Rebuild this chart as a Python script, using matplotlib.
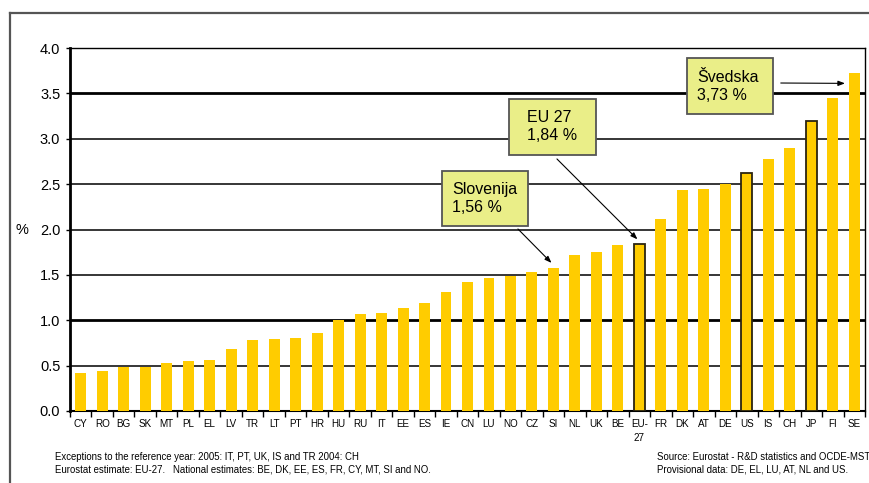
import numpy as np
import matplotlib.pyplot as plt
from matplotlib.lines import Line2D
from matplotlib.patches import Rectangle

plt.rcParams['font.family'] = ['Liberation Sans', 'DejaVu Sans']

countries = ['CY', 'RO', 'BG', 'SK', 'MT', 'PL', 'EL', 'LV', 'TR', 'LT', 'PT', 'HR',
             'HU', 'RU', 'IT', 'EE', 'ES', 'IE', 'CN', 'LU', 'NO', 'CZ', 'SI', 'NL',
             'UK', 'BE', 'EU-\n27', 'FR', 'DK', 'AT', 'DE', 'US', 'IS', 'CH', 'JP',
             'FI', 'SE']
gerd = [0.42, 0.44, 0.48, 0.49, 0.53, 0.55, 0.56, 0.68, 0.78, 0.79, 0.80, 0.86,
        1.00, 1.07, 1.08, 1.14, 1.19, 1.31, 1.42, 1.47, 1.49, 1.53, 1.58, 1.72,
        1.75, 1.83, 1.84, 2.12, 2.43, 2.45, 2.50, 2.62, 2.78, 2.90, 3.20,
        3.45, 3.73]
outlined = ['EU-\n27', 'US', 'JP']

yticks = [0.0, 0.5, 1.0, 1.5, 2.0, 2.5, 3.0, 3.5, 4.0]

W, H = 869, 483
fig = plt.figure(figsize=(W / 100, H / 100), dpi=100)


def fx(x):
    return x / W


def fy(y):
    return 1 - y / H


ax = fig.add_axes([fx(70), fy(411), fx(865) - fx(70), fy(48) - fy(411)])

x = np.arange(len(countries))
bars = ax.bar(x, gerd, width=0.51, color='#FFCC00', zorder=3)
for b, c in zip(bars, countries):
    if c in outlined:
        b.set_edgecolor('#2b2410')
        b.set_linewidth(1.3)

for t in yticks[1:]:
    lw = 2.0 if t in (1.0, 3.5) else 1.1
    ax.axhline(t, color='black', lw=lw, zorder=1)

ax.set_xlim(-0.5, len(countries) - 0.5)
ax.set_ylim(0, 4.0)
ax.set_yticks(yticks)
ax.set_yticklabels([f'{t:.1f}' for t in yticks], fontsize=10.5)
ax.set_xticks(x)
ax.set_xticklabels(countries, fontsize=7.1, linespacing=1.5)
ax.set_xticks(np.arange(-0.5, len(countries), 1), minor=True)
ax.tick_params(axis='x', which='major', length=0, pad=6)
ax.tick_params(axis='x', which='minor', length=4, width=1, direction='out')
ax.tick_params(axis='y', length=3, width=1, pad=4)

ax.spines['left'].set_linewidth(2)
ax.spines['bottom'].set_linewidth(1.5)
ax.spines['right'].set_linewidth(1)
ax.spines['top'].set_linewidth(1)

fig.text(fx(22), fy(230), '%', fontsize=10.5, ha='center', va='center')

# outer frame
fig.add_artist(Line2D([fx(10), 1], [fy(13), fy(13)], color='#555555', lw=1.6))
fig.add_artist(Line2D([fx(10), fx(10)], [fy(13), 0], color='#555555', lw=1.6))

# callout boxes: (left, top, right, bottom) in pixels, text offset, text, arrow start, target
callouts = [
    ((442, 171, 528, 226), 10, 'Slovenija\n1,56 %', (516, 227), 'SI'),
    ((509, 99, 596, 155), 18, 'EU 27\n1,84 %', (555, 157), 'EU-\n27'),
    ((687, 58, 773, 114), 10, 'Švedska\n3,73 %', (778, 83), 'SE'),
]
for (l, t, r, b), off, txt, start, target in callouts:
    fig.add_artist(Rectangle((fx(l), fy(b)), fx(r) - fx(l), fy(t) - fy(b),
                             facecolor='#EAEE88', edgecolor='#555555', lw=1.3,
                             zorder=5))
    fig.text(fx(l + off), fy((t + b) / 2), txt, fontsize=11.5, ha='left',
             va='center', linespacing=1.25, zorder=6)
    i = countries.index(target)
    if target == 'SE':
        tip = (i - 0.3, 3.61)
    else:
        tip = (i, gerd[i] + 0.03)
    ax.annotate('', xy=tip, xycoords='data',
                xytext=(fx(start[0]), fy(start[1])), textcoords='figure fraction',
                arrowprops=dict(arrowstyle='-|>,head_length=0.4,head_width=0.15',
                                color='black', lw=0.8), zorder=6,
                annotation_clip=False)

fig.text(fx(55), fy(457), 'Exceptions to the reference year: 2005: IT, PT, UK, IS and TR 2004: CH',
         fontsize=6.9, ha='left', va='center')
fig.text(fx(55), fy(470), 'Eurostat estimate: EU-27.   National estimates: BE, DK, EE, ES, FR, CY, MT, SI and NO.',
         fontsize=6.9, ha='left', va='center')
fig.text(fx(657), fy(457), 'Source: Eurostat - R&D statistics and OCDE-MSTI',
         fontsize=6.9, ha='left', va='center')
fig.text(fx(657), fy(470), 'Provisional data: DE, EL, LU, AT, NL and US.',
         fontsize=6.9, ha='left', va='center')

fig.savefig('out.png', dpi=100)
